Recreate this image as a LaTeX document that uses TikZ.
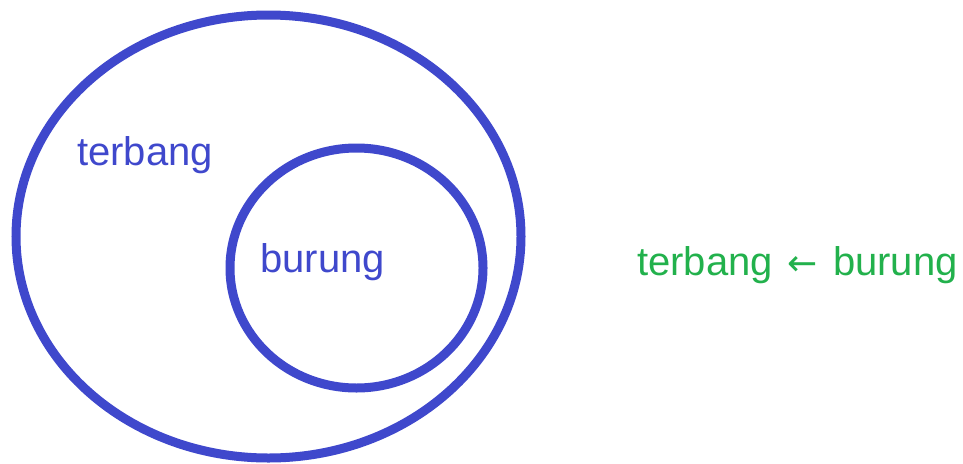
\documentclass[tikz,border=0pt]{standalone}
\usepackage{fontspec}
\setmainfont{Liberation Sans}
\newfontfamily\arrowfont{DejaVu Sans}
\definecolor{pblue}{HTML}{3F48CC}
\definecolor{pgreen}{HTML}{22B14C}
\begin{document}
\begin{tikzpicture}[x=1pt,y=-1pt,
  setline/.style={draw=pblue,line width=9pt},
  lbl/.style={inner sep=0pt,anchor=base west,font=\fontsize{40}{40}\selectfont}]
\useasboundingbox (0,0) rectangle (963,463);
\draw[setline] (268.5,236.5) ellipse [x radius=252.5, y radius=221.5];
\draw[setline] (356.5,268) ellipse [x radius=126.5, y radius=120];
\node[lbl,text=pblue] (terbang) at (77,165) {terbang};
\node[lbl,text=pblue] (burung) at (260,272) {burung};
\node[lbl,text=pgreen] (impl) at (637,275) {terbang\hspace{15pt}{\arrowfont\fontsize{36}{36}\selectfont ←}\hspace{15pt}burung};
\end{tikzpicture}
\end{document}
